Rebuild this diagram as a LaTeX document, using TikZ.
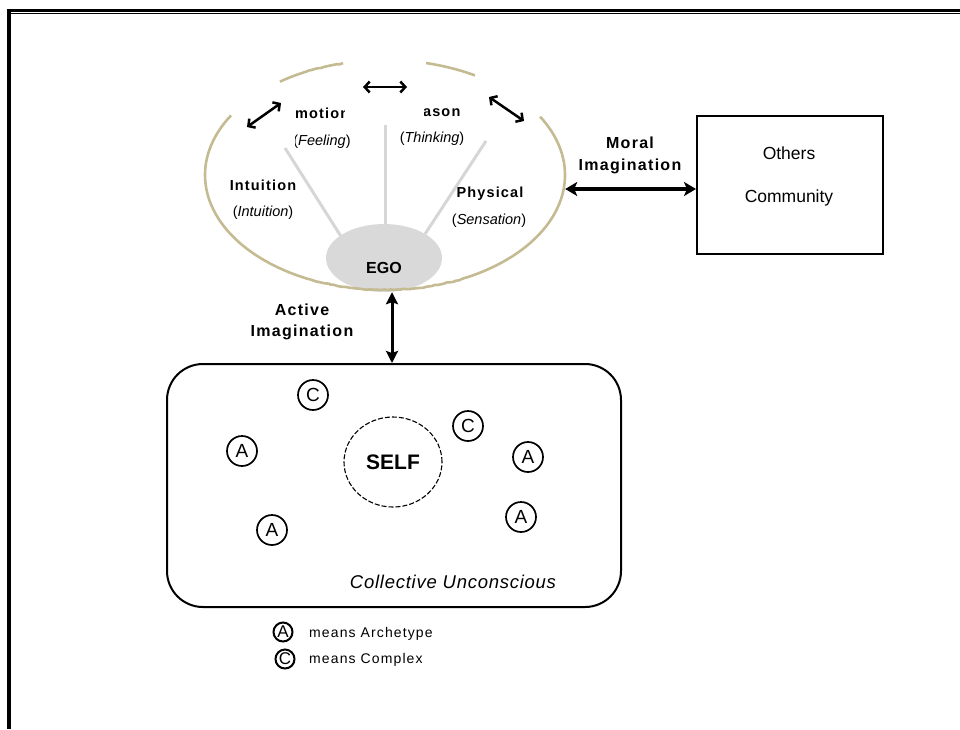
\documentclass[tikz,border=0pt]{standalone}
\usepackage{fontspec}
\setmainfont{Liberation Sans}
\newfontfamily\spc[LetterSpace=8]{Liberation Sans}
\newfontfamily\spcsmall[LetterSpace=4]{Liberation Sans}
\usetikzlibrary{arrows.meta,shapes.geometric,decorations.pathmorphing}
\definecolor{tanline}{RGB}{196,187,146}
\definecolor{spoke}{RGB}{214,214,214}
\definecolor{egofill}{RGB}{217,217,217}
\tikzset{
  lbl/.style={inner sep=0pt, font=\spc\bfseries\fontsize{14.5}{17}\selectfont},
  biglbl/.style={inner sep=0pt, font=\spc\bfseries\fontsize{16}{19}\selectfont},
  sub/.style={inner sep=0pt, font=\fontsize{14.5}{17}\selectfont},
  plain/.style={inner sep=0pt, font=\fontsize{17.5}{20}\selectfont},
  circ/.style={circle, draw, line width=1.7pt, minimum size=30pt, inner sep=0pt, font=\fontsize{19}{19}\selectfont},
  legcirc/.style={circle, draw, line width=2pt, minimum size=19pt, inner sep=0pt, font=\fontsize{17}{17}\selectfont},
  legtxt/.style={inner sep=0pt, anchor=west, font=\spc\fontsize{14}{16}\selectfont},
  thinarrow/.style={line width=2.5pt, {Straight Barb[length=5pt,width=11pt]}-{Straight Barb[length=5pt,width=11pt]}},
  moralarrow/.style={line width=4.5pt, {Stealth[length=12pt,width=14pt,inset=3pt]}-{Stealth[length=12pt,width=14pt,inset=3pt]}},
  activearrow/.style={line width=3pt, {Stealth[length=12pt,width=12pt,inset=2pt]}-{Stealth[length=12pt,width=12pt,inset=2pt]}},
  psyline/.style={tanline, line width=2.6pt, decorate, decoration={random steps, segment length=4pt, amplitude=0.6pt}},
  spokeline/.style={spoke, line width=3pt}
}
\begin{document}
\begin{tikzpicture}[x=1pt,y=-1pt]
\pgfmathsetseed{7}
\useasboundingbox (0,0) rectangle (960,729);
% frame
\draw[line width=2.7pt] (7.3,10.3) -- (960,10.3);
\draw[line width=1.3pt] (9,13.4) -- (960,13.4);
\draw[line width=3.7pt] (9.1,8.9) -- (9.1,729);
% psyche (ellipse outline is drawn as arcs)
\node[ellipse, minimum width=360pt, minimum height=230pt, inner sep=0pt] (psyche) at (385,175) {};
% spokes
\draw[spokeline] (385,125) -- (385,232);
\draw[spokeline] (285,148) -- (342,238);
\draw[spokeline] (486,141) -- (425,234);
% ego
\node[ellipse, fill=egofill, minimum width=116pt, minimum height=68pt, inner sep=0pt] (ego) at (384,258) {};
\node[inner sep=0pt, font=\bfseries\fontsize{16}{19}\selectfont] (egotext) at (384,268) {EGO};
% ellipse arcs
\draw[psyline] plot[domain=148.8:390.5, samples=120] ({385+180*cos(\x)},{175-115*sin(\x)});
\draw[psyline] plot[domain=103.5:125.7, samples=12] ({385+180*cos(\x)},{175-115*sin(\x)});
\draw[psyline] plot[domain=60:76.8, samples=10] ({385+180*cos(\x)},{175-115*sin(\x)});
% function labels
\begin{scope}
\clip (295,95) rectangle (344.5,125);
\node[lbl, anchor=west] (emotion) at (284,113) {Emotion};
\end{scope}
\begin{scope}
\clip (295,125) rectangle (370,160);
\node[sub] (feeling) at (322,142) {(\textit{Feeling})};
\end{scope}
\begin{scope}
\clip (424,95) rectangle (480,125);
\node[lbl, anchor=west] (reason) at (402,112) {Reason};
\end{scope}
\node[sub] (thinking) at (432,139) {(\textit{Thinking})};
\node[lbl] (intuition) at (263,185) {Intuition};
\node[sub] (intuitionsub) at (263,213) {(\textit{Intuition})};
\node[lbl] (physical) at (490,194) {Physical};
\node[sub] (sensation) at (489,221) {(\textit{Sensation})};
% small arrows
\coordinate (la1) at (247,127); \coordinate (la2) at (281,103);
\coordinate (ta1) at (363,87);  \coordinate (ta2) at (407,87);
\coordinate (ra1) at (489,97);  \coordinate (ra2) at (524,121);
\draw[thinarrow] (la1) -- (la2);
\draw[thinarrow] (ta1) -- (ta2);
\draw[thinarrow] (ra1) -- (ra2);
% others box
\node[draw, line width=2pt, minimum width=186pt, minimum height=138pt, inner sep=0pt] (others) at (790,185) {};
\node[plain] (otherstxt) at (789,153) {Others};
\node[plain] (communitytxt) at (789,198) {Community};
\coordinate (my) at (0,189);
\draw[moralarrow] (psyche.east |- my) -- (others.west |- my);
\node[biglbl] (moral) at (630,143) {Moral};
\node[biglbl] (moralimg) at (630,166) {Imagination};
% collective unconscious
\node[draw, line width=2pt, rounded corners=36pt, minimum width=454pt, minimum height=243pt, inner sep=0pt] (cu) at (394,485.5) {};
\coordinate (ax) at (392,0);
\draw[activearrow] (ego.south -| ax) -- (cu.north -| ax);
\node[biglbl] (active) at (302,310) {Active};
\node[biglbl] (activeimg) at (302,332) {Imagination};
\node[ellipse, draw, dashed, dash pattern=on 5pt off 2pt, line width=1.1pt, minimum width=98pt, minimum height=90pt, inner sep=0pt, font=\bfseries\fontsize{21}{21}\selectfont] (self) at (393,462) {SELF};
\node[circ] (c1) at (313,395) {C};
\node[circ] (c2) at (468,426) {C};
\node[circ] (a1) at (242,451) {A};
\node[circ] (a2) at (528,457) {A};
\node[circ] (a3) at (272,530) {A};
\node[circ] (a4) at (521,517) {A};
\node[inner sep=0pt, font=\itshape\spcsmall\fontsize{18.5}{20}\selectfont] (cutxt) at (453,582) {Collective Unconscious};
% legend
\node[legcirc] (lega) at (283,632) {A};
\node[legcirc] (legc) at (285,659) {C};
\node[legtxt] (legatxt) at (309,634) {means Archetype};
\node[legtxt] (legctxt) at (309,660) {means Complex};
\end{tikzpicture}
\end{document}
